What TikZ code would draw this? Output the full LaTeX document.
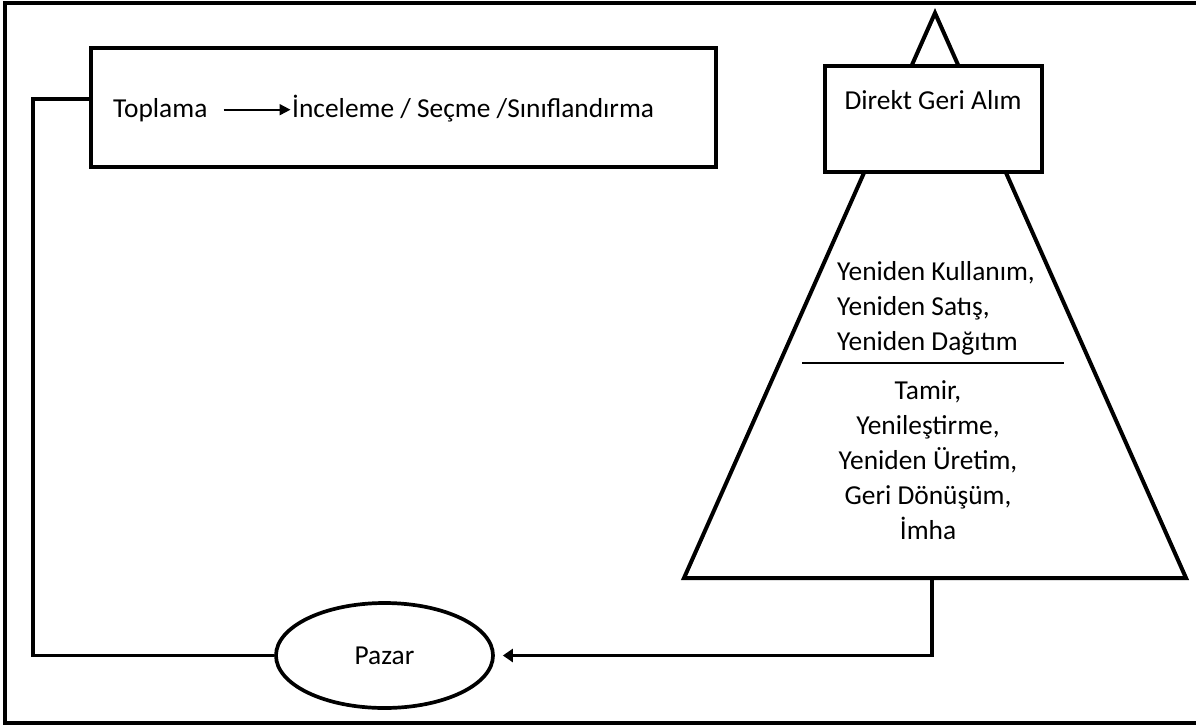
\documentclass[tikz,border=0pt]{standalone}
\usepackage{fontspec}
\setmainfont{Carlito}
\usetikzlibrary{shapes.geometric,arrows.meta}
\tikzset{
  lbl/.style={inner sep=0pt, font=\fontsize{27.4pt}{35pt}\selectfont},
  boxline/.style={draw=black, line width=4pt, fill=white, inner sep=0pt},
  frameline/.style={draw=black, line width=3.6pt},
  conn/.style={draw=black, line width=3.5pt},
  txtarrow/.style={draw=black, line width=2pt, -{Triangle[length=11pt,width=11pt]}},
  connarrow/.style={draw=black, line width=3.4pt, -{Triangle[length=10pt,width=13pt]}},
}
\begin{document}
\begin{tikzpicture}[x=1pt, y=-1pt]
\useasboundingbox (0,0) rectangle (1196,726);
\fill[white] (0,0) rectangle (1196,726);
% outer frame (open on the right, cropped)
\draw[frameline] (1205,3) -- (5,3) -- (5,723) -- (1205,723);

% big triangle
\coordinate (apex) at (935,13);
\coordinate (bl) at (684,578);
\coordinate (br) at (1186,578);
\draw[line width=4pt, fill=white, line join=miter] (apex) -- (br) -- (bl) -- cycle;

% Direkt Geri Alim box
\node[boxline, rectangle, minimum width=217pt, minimum height=106pt] (direkt) at (933.5,119) {};
\node[lbl, anchor=base] (direktlbl) at (933,109) {Direkt Geri Alım};

% triangle texts
\node[lbl, anchor=west, align=left] (grp1) at (837,308) {Yeniden Kullanım,\\Yeniden Satış,\\Yeniden Dağıtım};
\coordinate (sepL) at (802,363);
\coordinate (sepR) at (1064,363);
\draw[line width=2pt] (sepL) -- (sepR);
\node[lbl, anchor=center, align=center] (grp2) at (928,460) {Tamir,\\Yenileştirme,\\Yeniden Üretim,\\Geri Dönüşüm,\\İmha};

% top-left box
\node[boxline, rectangle, minimum width=625pt, minimum height=119pt] (box1) at (403.4,107.5) {};
\node[lbl, anchor=base west] (toplama) at (113,117) {Toplama};
\node[lbl, anchor=base west] (inceleme) at (292,117) {İnceleme / Seçme /Sınıflandırma};
\draw[txtarrow] ([xshift=16pt]toplama.east) -- ([xshift=-1.5pt]toplama.east -| inceleme.west);

% Pazar
\node[boxline, ellipse, line width=3.7pt, minimum width=217pt, minimum height=105pt] (pazar) at (384.5,655.5) {};
\node[lbl] (pazarlbl) at (pazar.center) {Pazar};

% connectors
\coordinate (tb) at (932,578);
\draw[connarrow, shorten >=8pt] (tb) |- (pazar.east);
\draw[conn] ([yshift=8.5pt]box1.west) -- ++(-55.7,0) |- (pazar.west);
\end{tikzpicture}
\end{document}
